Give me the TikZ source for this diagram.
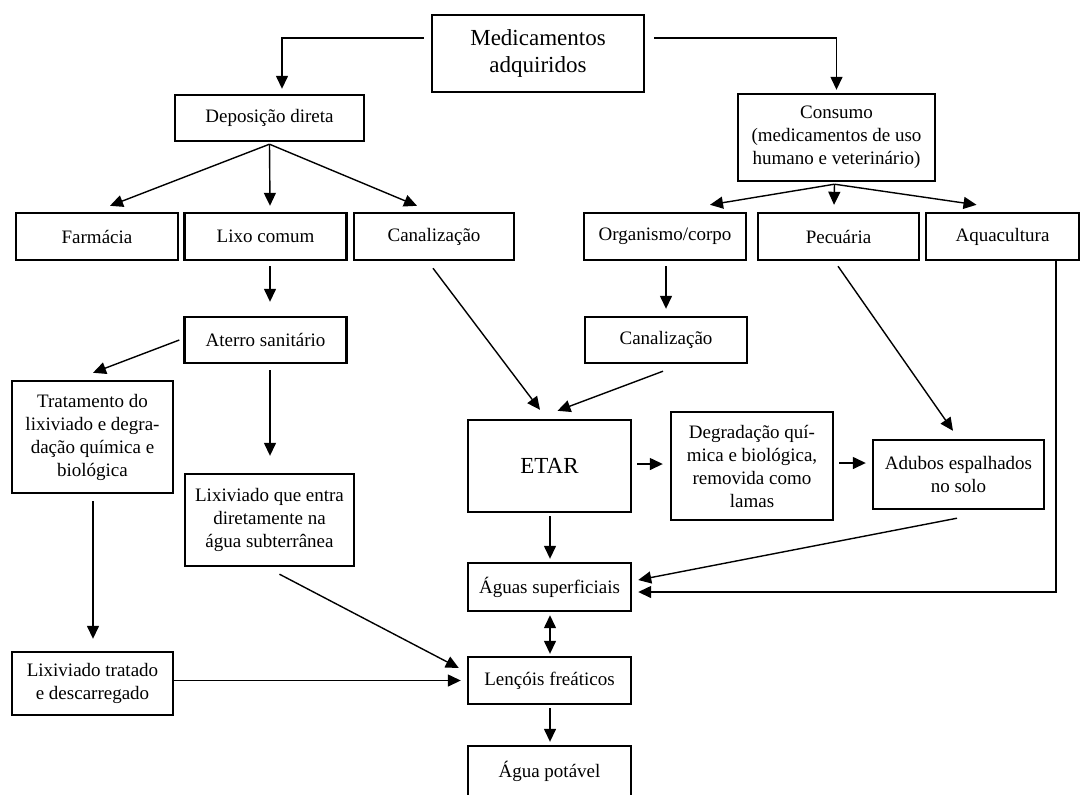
\documentclass[tikz,border=0pt]{standalone}
\usepackage{fontspec}
\setmainfont{Liberation Serif}
\usepackage{tikz}
\usetikzlibrary{arrows.meta}

\begin{document}
\begin{tikzpicture}[
        x=0.5pt, y=-0.5pt,
        >={Triangle[length=6.5pt, width=6pt]},
        every node/.style={font=\fontsize{9.5}{11.5}\selectfont, align=center},
        flowbox/.style={draw, line width=1.2pt, inner sep=2pt, minimum width=81pt, minimum height=23.5pt},
        bigtext/.style={font=\fontsize{11.5}{13.5}\selectfont},
        arrow/.style={->, line width=0.7pt},
        twoway/.style={<->, line width=0.7pt}
    ]
        \useasboundingbox (0,0) rectangle (1081,794);
        % top of the chart
        \node[flowbox, bigtext, minimum width=106pt, minimum height=38.5pt] (med) at (538,53.5) {Medicamentos\\adquiridos};
        \node[flowbox, minimum width=94.5pt, minimum height=23pt] (dep) at (269.5,118) {Deposição direta};
        \node[flowbox, minimum width=98.5pt, minimum height=43.5pt] (cons) at (836.5,137.5) {Consumo\\(medicamentos de uso\\humano e veterinário)};
        % second row
        \node[flowbox] (farm) at (97,236.5) {Farmácia};
        \node[flowbox] (lixo) at (265.5,236.5) {Lixo comum};
        \node[flowbox, minimum width=80pt] (canL) at (434,236.5) {Canalização};
        \node[flowbox] (org) at (665,236.5) {Organismo/corpo};
        \node[flowbox, minimum width=80.5pt] (pec) at (838.5,236.5) {Pecuária};
        \node[flowbox, minimum width=76.5pt] (aqua) at (1002.5,236.5) {Aquacultura};
        % middle
        \node[flowbox, minimum height=23pt] (ater) at (265.5,340) {Aterro sanitário};
        \node[flowbox, minimum height=23pt] (canR) at (666,340) {Canalização};
        \node[flowbox, minimum width=80.5pt, minimum height=56pt] (trat) at (92.5,437) {Tratamento do\\lixiviado e degra-\\dação química e\\biológica};
        \node[flowbox, minimum width=84.5pt, minimum height=46pt] (lixE) at (269.5,520) {Lixiviado que entra\\diretamente na\\água subterrânea};
        \node[flowbox, bigtext, minimum width=81.5pt, minimum height=46pt] (etar) at (549.5,466) {ETAR};
        \node[flowbox, minimum height=54pt] (degr) at (752,466) {Degradação quí-\\mica e biológica,\\removida como\\lamas};
        \node[flowbox, minimum width=85.5pt, minimum height=34.5pt] (adub) at (958.5,474.5) {Adubos espalhados\\no solo};
        % bottom
        \node[flowbox, minimum width=81.5pt, minimum height=24pt] (agsup) at (549.5,587) {Águas superficiais};
        \node[flowbox, minimum width=80.5pt, minimum height=31.5pt] (lixT) at (92.5,683.5) {Lixiviado tratado\\e descarregado};
        \node[flowbox, minimum width=81.5pt] (lenc) at (549.5,680.5) {Lençóis freáticos};
        \node[flowbox, minimum width=81.5pt, minimum height=25pt] (agpot) at (549.5,771) {Água potável};
        % connectors
        \draw[arrow] ([shift={(-7,-15.5)}]med.west) -| ([shift={(12.5,-5)}]dep.north);
        \draw[arrow] ([shift={(9,-15.5)}]med.east) -| ([shift={(0,-3)}]cons.north);
        \draw[arrow] ([shift={(0,2)}]dep.south) -- ([shift={(13,-6)}]farm.north);
        \draw[arrow] ([shift={(0,2)}]dep.south) -- ([shift={(4.5,-6)}]lixo.north);
        \draw[arrow] ([shift={(0,2)}]dep.south) -- ([shift={(-17,-6)}]canL.north);
        \draw[arrow] ([shift={(-2,2)}]cons.south) -- ([shift={(45,-7)}]org.north);
        \draw[arrow] ([shift={(-2,2)}]cons.south) -- ([shift={(-4.5,-7)}]pec.north);
        \draw[arrow] ([shift={(-2,2)}]cons.south) -- ([shift={(-26,-7)}]aqua.north);
        \draw[arrow] ([shift={(4.5,5)}]lixo.south) -- ([shift={(4.5,-14)}]ater.north);
        \draw[arrow] ([shift={(-4,0)}]ater.west) -- ([shift={(0.5,-7)}]trat.north);
        \draw[arrow] ([shift={(4.5,6)}]ater.south) -- ([shift={(0.5,-17)}]lixE.north);
        \draw[arrow] ([shift={(0.5,7)}]trat.south) -- ([shift={(0.5,-12)}]lixT.north);
        \draw[arrow] (lixT.east |- lenc.west) -- ([shift={(-6,0)}]lenc.west);
        \draw[arrow] ([shift={(10,7)}]lixE.south) -- ([shift={(-8,-12.5)}]lenc.west);
        \draw[arrow] ([shift={(-1,7)}]canL.south) -- ([shift={(-9.5,-9)}]etar.north);
        \draw[arrow] ([shift={(1,5)}]org.south) -- ([shift={(0,-7)}]canR.north);
        \draw[arrow] ([shift={(-3,7)}]canR.south) -- ([shift={(8,-8)}]etar.north);
        \draw[arrow] ([shift={(5,-2)}]etar.east) -- ([shift={(-7,-2)}]degr.west);
        \draw[arrow] ([shift={(5,-3)}]degr.east) -- ([shift={(-6,-11.5)}]adub.west);
        \draw[arrow] ([shift={(-0.5,5)}]pec.south) -- ([shift={(-5.5,-8)}]adub.north);
        \draw[arrow] ([shift={(-1.5,8)}]adub.south) -- ([shift={(6,-7)}]agsup.east);
        \draw[arrow] ([shift={(53.5,0)}]aqua.south) |- ([shift={(6,5)}]agsup.east);
        \draw[arrow] ([shift={(0.5,3)}]etar.south) -- ([shift={(0.5,-3)}]agsup.north);
        \draw[twoway] ([shift={(0.5,3)}]agsup.south) -- ([shift={(0.5,-2)}]lenc.north);
        \draw[arrow] ([shift={(0.5,3)}]lenc.south) -- ([shift={(0.5,-3)}]agpot.north);
    \end{tikzpicture}
\end{document}
